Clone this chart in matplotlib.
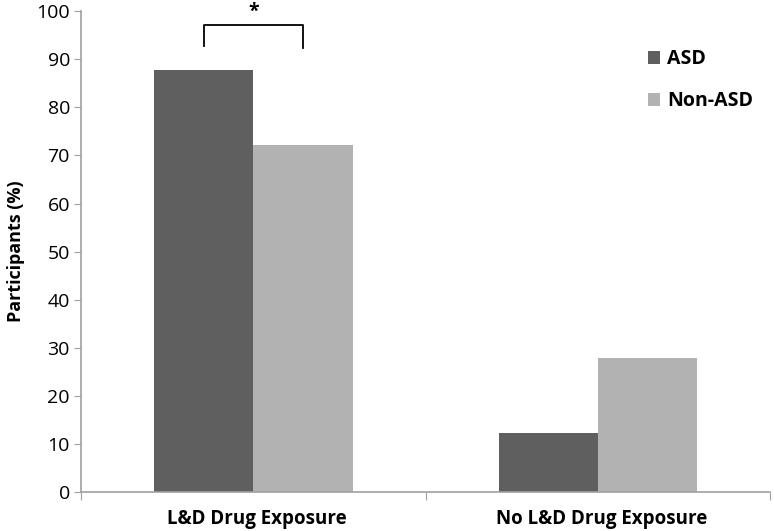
import numpy as np
import matplotlib.pyplot as plt
from matplotlib.patches import Patch

plt.rcParams['font.family'] = ['Open Sans', 'DejaVu Sans']

# data
categories = ["L&D Drug Exposure", "No L&D Drug Exposure"]
series_names = ["ASD", "Non-ASD"]
asd_values = [87.8, 12.2]
non_asd_values = [72.2, 27.8]
y_ticks = [0, 10, 20, 30, 40, 50, 60, 70, 80, 90, 100]

dark = "#5f5f5f"
light = "#b2b2b2"
axis_col = "#a0a0a0"

fig = plt.figure(figsize=(7.74, 5.31), dpi=100)
ax = fig.add_axes([0.1047, 0.0734, 0.8905, 0.9055])

x = np.arange(len(categories))
w = 0.288
ax.bar(x - w / 2, asd_values, width=w, color=dark, label=series_names[0])
ax.bar(x + w / 2, non_asd_values, width=w, color=light, label=series_names[1])

ax.set_xlim(-0.5, 1.5)
ax.set_ylim(0, 100)
ax.set_yticks(y_ticks)
ax.tick_params(axis='y', direction='out', length=5, color=axis_col, labelsize=14, pad=3)

# category labels centred, tick marks at the boundaries
ax.set_xticks([-0.5, 0.5, 1.5])
ax.set_xticklabels([])
ax.tick_params(axis='x', direction='out', length=6, color=axis_col)
for xi, lab in zip(x, categories):
    ax.text(xi + 0.01, -3.5, lab, ha='center', va='top', fontsize=13.5, fontweight='bold',
            transform=ax.transData)

for s in ['top', 'right']:
    ax.spines[s].set_visible(False)
for s in ['left', 'bottom']:
    ax.spines[s].set_color(axis_col)
    ax.spines[s].set_linewidth(1.2)

ax.set_ylabel("Participants (%)", fontsize=13, fontweight='bold', labelpad=8)

# significance bracket
x1, x2 = x[0] - w / 2, x[0] + w / 2
ax.plot([x1, x1, x2, x2], [92.8, 97.1, 97.1, 92.3], color='black', lw=1.3, clip_on=False)
ax.text((x1 + x2) / 2, 97.8, "*", ha='center', va='bottom', fontsize=14, fontweight='bold',
        clip_on=False)

handles = [Patch(facecolor=dark, label=series_names[0]),
           Patch(facecolor=light, label=series_names[1])]
fig.legend(handles=handles, loc='upper left', bbox_to_anchor=(0.814, 0.94), frameon=False,
           prop={'weight': 'bold', 'size': 14}, handlelength=0.65, handleheight=0.65,
           handletextpad=0.35, labelspacing=1.12)

plt.savefig("out.png", dpi=100)
plt.close()
